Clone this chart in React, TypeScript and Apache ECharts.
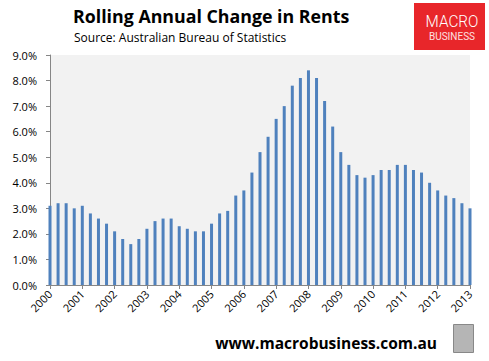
import React, { useEffect, useRef } from "react";
import * as echarts from "echarts";

const years = ["2000","2001","2002","2003","2004","2005","2006","2007","2008","2009","2010","2011","2012","2013"];
const quarterLabels = ["Q1", "Q2", "Q3", "Q4"];
const rentChange = [
  3.1, 3.2, 3.2, 3.0, 3.1, 2.8, 2.6, 2.4, 2.1, 1.8, 1.6, 1.8, 2.2,
  2.5, 2.6, 2.6, 2.3, 2.2, 2.1, 2.1, 2.4, 2.8, 2.9, 3.5, 3.7, 4.4,
  5.2, 5.8, 6.5, 7.0, 7.8, 8.1, 8.4, 8.1, 7.2, 6.2, 5.2, 4.7, 4.3,
  4.2, 4.3, 4.5, 4.5, 4.7, 4.7, 4.5, 4.4, 4.0, 3.7, 3.5, 3.4, 3.2, 3.0,
];

const categories: string[] = [];
years.forEach((y) => quarterLabels.forEach((q) => categories.push(y + " " + q)));
categories.length = rentChange.length;

export default function App() {
  const ref = useRef<HTMLDivElement>(null);
  useEffect(() => {
    if (!ref.current) return;
    const chart = echarts.init(ref.current, null, { renderer: "svg" });
    const font = "'Open Sans', 'Noto Sans', sans-serif";
    chart.setOption({
      animation: false,
      backgroundColor: "#ffffff",
      grid: { left: 50, right: 19, top: 55, bottom: 76, backgroundColor: "#f2f2f2", show: true, borderWidth: 0 },
      graphic: [
        { type: "text", left: 73, top: 7, style: { text: "Rolling Annual Change in Rents", font: "bold 17.8px " + font, fill: "#000" } },
        { type: "text", left: 74, top: 31, style: { text: "Source: Australian Bureau of Statistics", font: "12px " + font, fill: "#000" } },
        { type: "rect", shape: { x: 414, y: 3, width: 71, height: 47 }, style: { fill: "#e8262a" } },
        { type: "text", x: 452, y: 21, scaleX: 0.9, style: { text: "MACRO", font: "300 17px Roboto, sans-serif", fill: "#fff", align: "center", verticalAlign: "middle" } },
        { type: "text", x: 452, y: 36, style: { text: "BUSINESS", font: "10px Roboto, sans-serif", fill: "#fde0e0", align: "center", verticalAlign: "middle" } },
        { type: "text", x: 437, y: 343, style: { text: "www.macrobusiness.com.au", font: "bold 15.5px " + font, fill: "#000", align: "right", verticalAlign: "middle" } },
        { type: "rect", shape: { x: 453.5, y: 324.5, width: 20, height: 28 }, style: { fill: "#b5b5b5", stroke: "#888", lineWidth: 1 } },
      ],
      xAxis: {
        type: "category",
        data: categories,
        boundaryGap: false,
        axisLine: { lineStyle: { color: "#868686" } },
        axisTick: { interval: 3, length: 4, lineStyle: { color: "#868686" } },
        axisLabel: {
          interval: 3,
          rotate: 45,
          fontSize: 11,
          fontFamily: font,
          color: "#000",
          margin: 7,
          formatter: (v: string) => v.split(" ")[0],
        },
        splitLine: { show: false },
      },
      yAxis: {
        type: "value",
        min: 0,
        max: 9,
        interval: 1,
        axisLine: { show: true, lineStyle: { color: "#868686" } },
        axisTick: { show: true, length: 4, lineStyle: { color: "#868686" } },
        axisLabel: { fontSize: 11, fontFamily: font, color: "#000", margin: 13, formatter: (v: number) => v.toFixed(1) + "%" },
        splitLine: { show: false },
      },
      series: [
        {
          type: "bar",
          data: rentChange,
          barWidth: 3,
          clip: false,
          itemStyle: { color: "#4f81bd" },
        },
      ],
    });
    return () => chart.dispose();
  }, []);
  return <div ref={ref} style={{ width: 489, height: 361, position: "absolute", left: 0, top: 0 }} />;
}
